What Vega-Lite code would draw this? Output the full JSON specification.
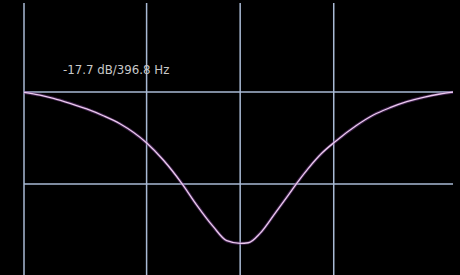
{
  "$schema": "https://vega.github.io/schema/vega-lite/v6.json",
  "width": 429,
  "height": 272,
  "autosize": {"type": "none"},
  "padding": {"left": 24, "top": 3, "right": 7, "bottom": 0},
  "background": "#000000",
  "config": {"view": {"stroke": null}},
  "datasets": {
    "curve": [
      {"freq": 80, "db": -0.04},
      {"freq": 90.1, "db": -0.36},
      {"freq": 99.4, "db": -0.74},
      {"freq": 112.5, "db": -1.33},
      {"freq": 127.3, "db": -1.99},
      {"freq": 144.0, "db": -2.78},
      {"freq": 162.9, "db": -3.72},
      {"freq": 198.6, "db": -5.97},
      {"freq": 224.5, "db": -7.96},
      {"freq": 257.4, "db": -10.68},
      {"freq": 287.6, "db": -13.22},
      {"freq": 325.2, "db": -15.75},
      {"freq": 359.2, "db": -17.39},
      {"freq": 396.8, "db": -17.7},
      {"freq": 421.5, "db": -17.63},
      {"freq": 459.7, "db": -16.53},
      {"freq": 513.7, "db": -14.19},
      {"freq": 566.9, "db": -12.05},
      {"freq": 603.3, "db": -10.68},
      {"freq": 657.4, "db": -8.93},
      {"freq": 726.0, "db": -7.17},
      {"freq": 801.3, "db": -5.82},
      {"freq": 941.0, "db": -3.90},
      {"freq": 1064, "db": -2.70},
      {"freq": 1204, "db": -1.84},
      {"freq": 1363, "db": -1.14},
      {"freq": 1541, "db": -0.63},
      {"freq": 1744, "db": -0.24},
      {"freq": 1920, "db": -0.03}
    ],
    "vgrid": [{"freq": 80}, {"freq": 198.4}, {"freq": 396.8}, {"freq": 793.6}],
    "hgrid": [{"db": 0}, {"db": -10.75}],
    "label": [{"freq": 106.8, "db": 2.57, "text": "-17.7 dB/396.8 Hz"}]
  },
  "layer": [
    {
      "data": {"name": "vgrid"},
      "mark": {"type": "rule", "color": "#a9bad4", "strokeWidth": 1.5},
      "encoding": {
        "x": {"field": "freq", "type": "quantitative", "scale": {"type": "log", "domain": [80, 1920], "nice": false}, "axis": null}
      }
    },
    {
      "data": {"name": "hgrid"},
      "mark": {"type": "rule", "color": "#a9bad4", "strokeWidth": 1.5},
      "encoding": {
        "y": {"field": "db", "type": "quantitative", "scale": {"domain": [-21.4, 10.4], "nice": false, "zero": false}, "axis": null}
      }
    },
    {
      "data": {"name": "curve"},
      "mark": {"type": "line", "color": "#8a4aa8", "strokeWidth": 3.2, "opacity": 0.45, "interpolate": "monotone"},
      "encoding": {
        "x": {"field": "freq", "type": "quantitative", "scale": {"type": "log", "domain": [80, 1920], "nice": false}, "axis": null},
        "y": {"field": "db", "type": "quantitative", "scale": {"domain": [-21.4, 10.4], "nice": false, "zero": false}, "axis": null}
      }
    },
    {
      "data": {"name": "curve"},
      "mark": {"type": "line", "color": "#eccbee", "strokeWidth": 1.3, "interpolate": "monotone"},
      "encoding": {
        "x": {"field": "freq", "type": "quantitative", "scale": {"type": "log", "domain": [80, 1920], "nice": false}, "axis": null},
        "y": {"field": "db", "type": "quantitative", "scale": {"domain": [-21.4, 10.4], "nice": false, "zero": false}, "axis": null}
      }
    },
    {
      "data": {"name": "label"},
      "mark": {"type": "text", "align": "left", "baseline": "middle", "font": "DejaVu Sans", "fontSize": 11.8, "color": "#c8c8c8"},
      "encoding": {
        "x": {"field": "freq", "type": "quantitative", "scale": {"type": "log", "domain": [80, 1920], "nice": false}, "axis": null},
        "y": {"field": "db", "type": "quantitative", "scale": {"domain": [-21.4, 10.4], "nice": false, "zero": false}, "axis": null},
        "text": {"field": "text", "type": "nominal"}
      }
    }
  ]
}
